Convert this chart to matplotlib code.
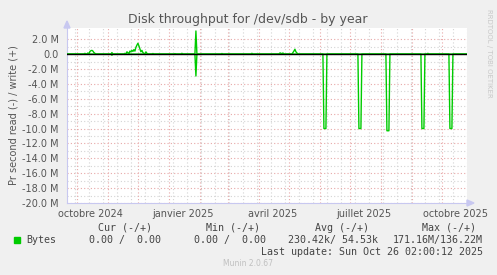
import numpy as np
import pandas as pd
import matplotlib
matplotlib.use("Agg")
import matplotlib.pyplot as plt
from matplotlib.ticker import FuncFormatter

# ---------------------------------------------------------------
# data (bytes per second, daily averages)
# ---------------------------------------------------------------
start = pd.Timestamp("2024-09-21 02:00:12")
end = pd.Timestamp("2025-10-26 02:00:12")

write_dates = ["2024-10-09", "2024-10-12", "2024-10-14", "2024-10-15", "2024-10-16",
               "2024-10-17", "2024-10-18", "2024-10-19", "2024-11-05",
               "2024-11-18", "2024-11-20", "2024-11-21", "2024-11-23", "2024-11-24",
               "2024-11-25", "2024-11-26", "2024-11-27", "2024-11-28", "2024-11-29",
               "2024-11-30", "2024-12-01", "2024-12-02", "2024-12-03", "2024-12-04",
               "2024-12-05", "2024-12-06", "2024-12-07", "2024-12-09", "2024-12-10",
               "2024-12-16", "2025-01-07", "2025-01-14", "2025-01-28", "2025-02-23",
               "2025-03-25", "2025-04-22", "2025-04-23", "2025-04-25",
               "2025-05-05", "2025-05-06", "2025-05-07", "2025-05-08", "2025-05-09",
               "2025-09-17"]
write_vals = [0.1e6, 0.15e6, 0.35e6, 0.45e6, 0.5e6,
              0.4e6, 0.2e6, 0.1e6, 0.2e6,
              0.1e6, 0.3e6, 0.2e6, 0.4e6, 0.3e6,
              0.5e6, 0.35e6, 0.6e6, 0.4e6, 0.9e6,
              1.2e6, 1.45e6, 1.1e6, 0.7e6, 0.3e6,
              0.5e6, 0.2e6, 0.1e6, 0.3e6, 0.1e6,
              0.08e6, 0.06e6, 0.1e6, 3.1e6, 0.08e6,
              0.1e6, 0.15e6, 0.12e6, 0.15e6,
              0.2e6, 0.4e6, 0.65e6, 0.3e6, 0.15e6,
              0.1e6]

read_dates = ["2024-11-05", "2025-01-28",
              "2025-06-05", "2025-06-06", "2025-06-07",
              "2025-07-10", "2025-07-11", "2025-07-12",
              "2025-08-07", "2025-08-08", "2025-08-09",
              "2025-09-11", "2025-09-12", "2025-09-13",
              "2025-10-09", "2025-10-10", "2025-10-11"]
read_vals = [0.15e6, 2.95e6,
             10.0e6, 10.0e6, 10.0e6,
             10.0e6, 10.0e6, 10.0e6,
             10.3e6, 10.3e6, 10.3e6,
             10.0e6, 10.0e6, 10.0e6,
             10.0e6, 10.0e6, 10.0e6]

y_ticks = [2e6, 0, -2e6, -4e6, -6e6, -8e6, -10e6, -12e6, -14e6, -16e6, -18e6, -20e6]
x_label_dates = ["2024-10-15", "2025-01-15", "2025-04-15", "2025-07-15", "2025-10-15"]
x_labels = ["octobre 2024", "janvier 2025", "avril 2025", "juillet 2025", "octobre 2025"]

# ---------------------------------------------------------------
# build daily series
# ---------------------------------------------------------------
days = pd.date_range("2024-09-21", "2025-10-26", freq="D")
write = pd.Series(0.0, index=days)
read = pd.Series(0.0, index=days)
write.loc[pd.to_datetime(write_dates)] = write_vals
read.loc[pd.to_datetime(read_dates)] = read_vals

# ---------------------------------------------------------------
# figure
# ---------------------------------------------------------------
BG = "#f0f0f0"
TXT = "#555555"
GREEN = "#00cc00"
MAJ = "#e8a8a8"
MIN = "#d4d4d4"
AXC = "#c8c8f0"

fig = plt.figure(figsize=(4.97, 2.75), dpi=100, facecolor=BG)
ax = fig.add_axes([67 / 497, 72 / 275, 400 / 497, 175 / 275])
ax.set_facecolor("white")

ax.set_xlim(start, end)
ax.set_ylim(-20e6, 3.5e6)

# grid: horizontal
for v in np.arange(-19e6, 3e6, 2e6):
    ax.axhline(v, color=MIN, lw=0.8, ls=(0, (1, 2)), zorder=1)
for v in y_ticks:
    ax.axhline(v, color=MAJ, lw=0.8, ls=(0, (1, 2)), zorder=1)

# grid: vertical (biweekly minor, monthly major)
for d in pd.date_range("2024-09-29", end, freq="14D"):
    ax.axvline(d, color=MIN, lw=0.8, ls=(0, (1, 2)), zorder=1)
for d in pd.date_range("2024-10-01", end, freq="MS"):
    ax.axvline(d, color=MAJ, lw=0.8, ls=(0, (1, 2)), zorder=1)

ax.plot(days, write.values, color=GREEN, lw=1.0, zorder=3)
ax.plot(days, -read.values, color=GREEN, lw=1.0, zorder=3)
ax.axhline(0, color="black", lw=1.0, zorder=4)

# axes styling
for s in ["top", "right"]:
    ax.spines[s].set_visible(False)
ax.spines["left"].set_color(AXC)
ax.spines["bottom"].set_color(AXC)

ax.set_yticks(y_ticks)
ax.yaxis.set_major_formatter(FuncFormatter(
    lambda v, p: "0.0" if v == 0 else f"{v / 1e6:.1f} M"))
ax.set_xticks(pd.to_datetime(x_label_dates))
ax.set_xticklabels(x_labels)
ax.tick_params(axis="both", length=0, labelsize=7, labelcolor=TXT)
ax.tick_params(axis="y", pad=6)
ax.tick_params(axis="x", pad=4)

# arrows at axis ends
fig.patches.append(plt.Polygon([[64 / 497, 1 - 28 / 275], [70 / 497, 1 - 28 / 275],
                                [67 / 497, 1 - 21 / 275]], closed=True,
                               transform=fig.transFigure, color=AXC, zorder=5))
fig.patches.append(plt.Polygon([[467 / 497, 1 - 200 / 275], [467 / 497, 1 - 206 / 275],
                                [474 / 497, 1 - 203 / 275]], closed=True,
                               transform=fig.transFigure, color=AXC, zorder=5))

fig.text(248 / 497, 1 - 19 / 275, "Disk throughput for /dev/sdb - by year",
         ha="center", va="center", fontsize=9, color=TXT)
fig.text(14 / 497, 1 - 115 / 275, "Pr second read (-) / write (+)",
         rotation=90, ha="center", va="center", fontsize=7, color=TXT)
fig.text(489 / 497, 1 - 53 / 275, "RRDTOOL / TOBI OETIKER", rotation=270,
         ha="center", va="center", fontsize=5, color="#c8c8c8")

# legend block
mono = dict(family="DejaVu Sans Mono", fontsize=7.2, color="#444444")
fig.text(125 / 497, 1 - 228 / 275, "Cur (-/+)", ha="center", va="center", **mono)
fig.text(233 / 497, 1 - 228 / 275, "Min (-/+)", ha="center", va="center", **mono)
fig.text(342 / 497, 1 - 228 / 275, "Avg (-/+)", ha="center", va="center", **mono)
fig.text(449 / 497, 1 - 228 / 275, "Max (-/+)", ha="center", va="center", **mono)
fig.patches.append(plt.Rectangle((14 / 497, 1 - 243 / 275), 6 / 497, 6 / 275,
                                 transform=fig.transFigure, color=GREEN))
fig.text(26 / 497, 1 - 240 / 275, "Bytes", ha="left", va="center", **mono)
fig.text(161 / 497, 1 - 240 / 275, "0.00 /  0.00", ha="right", va="center", **mono)
fig.text(266 / 497, 1 - 240 / 275, "0.00 /  0.00", ha="right", va="center", **mono)
fig.text(378 / 497, 1 - 240 / 275, "230.42k/ 54.53k", ha="right", va="center", **mono)
fig.text(483 / 497, 1 - 240 / 275, "171.16M/136.22M", ha="right", va="center", **mono)
fig.text(483 / 497, 1 - 252 / 275, "Last update: Sun Oct 26 02:00:12 2025",
         ha="right", va="center", **mono)
fig.text(248 / 497, 1 - 264 / 275, "Munin 2.0.67", ha="center", va="center",
         fontsize=5.5, color="#c0c0c0")

fig.savefig("out.png", dpi=100, facecolor=BG)
